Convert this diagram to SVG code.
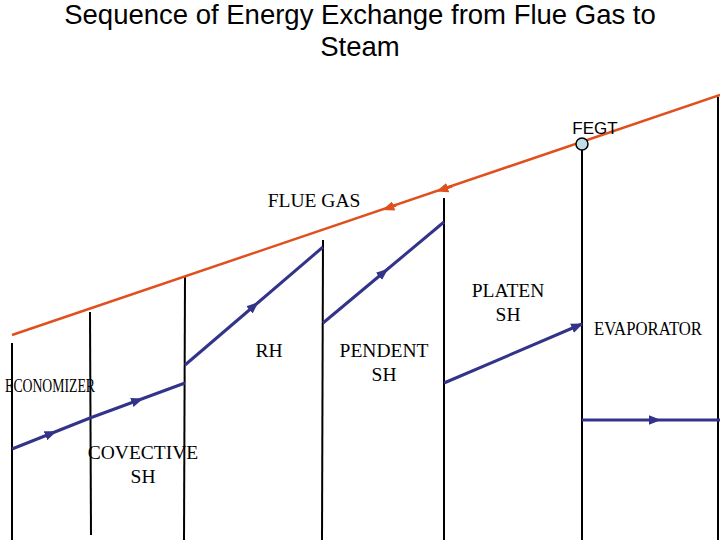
<svg xmlns="http://www.w3.org/2000/svg" width="720" height="540" viewBox="0 0 720 540">
<style>
.t{font-family:"Liberation Serif",serif;font-size:19.5px;fill:#000;text-anchor:middle}
.s{font-family:"Liberation Sans",sans-serif;fill:#000;text-anchor:middle}
.v{stroke:#000;stroke-width:2;fill:none}
.b{stroke:#33338a;stroke-width:3;fill:none}
.r{stroke:#e0501e;stroke-width:2.5;fill:none}
</style>
<defs>
<marker id="ab" viewBox="0 0 10 10" refX="5" refY="5" markerWidth="4" markerHeight="4" orient="auto" markerUnits="strokeWidth"><path d="M0,1L10,5L0,9z" fill="#33338a"/></marker>
<marker id="ae" viewBox="0 0 10 10" refX="9" refY="5" markerWidth="4" markerHeight="4" orient="auto" markerUnits="strokeWidth"><path d="M0,1L10,5L0,9z" fill="#33338a"/></marker>
<marker id="ar" viewBox="0 0 10 10" refX="5" refY="5" markerWidth="4" markerHeight="4" orient="auto" markerUnits="strokeWidth"><path d="M0,1L10,5L0,9z" fill="#e0501e"/></marker>
</defs>
<text class="s" font-size="27.5" x="360" y="24">Sequence of Energy Exchange from Flue Gas to</text>
<text class="s" font-size="27.5" x="360" y="56">Steam</text>
<g id="walls">
<line class="v" x1="12" y1="343" x2="12" y2="540" stroke-width="1.5"/>
<line class="v" x1="90" y1="312" x2="91" y2="535"/>
<line class="v" x1="185" y1="276" x2="184" y2="540"/>
<line class="v" x1="323" y1="240" x2="322" y2="540"/>
<line class="v" x1="444" y1="198" x2="444" y2="540"/>
<line class="v" x1="582" y1="150" x2="582" y2="540" stroke-width="1.5"/>
<line class="v" x1="718" y1="97" x2="718" y2="540" stroke-width="1.5"/>
</g>
<g id="connectors">
<path class="r" d="M12,335L720,95"/>
<path d="M452,186.2L442,189.6" stroke="#e0501e" stroke-width="3" marker-end="url(#ar)"/>
<path d="M396,205.2L388,208" stroke="#e0501e" stroke-width="3" marker-end="url(#ar)"/>
<path class="b" d="M12,449L51,433.5L90,418" marker-mid="url(#ab)"/>
<path class="b" d="M90,418L137.5,400.5L185,383" marker-mid="url(#ab)"/>
<path class="b" d="M185,365L254,306L323,247" marker-mid="url(#ab)"/>
<path class="b" d="M323,323L383.5,272.5L444,222" marker-mid="url(#ab)"/>
<path class="b" d="M444,383L582,324" marker-end="url(#ae)"/>
<path class="b" d="M582,420L655,420L720,420" marker-mid="url(#ab)"/>
</g>
<g id="fegt">
<circle cx="582" cy="144" r="6" fill="#bfe0e6" stroke="#000" stroke-width="1.5"/>
<text class="s" font-size="17" x="595" y="134">FEGT</text>
</g>
<g id="labels">
<text class="t" x="314" y="207">FLUE GAS</text>
<text class="t" x="508" y="297">PLATEN</text>
<text class="t" x="508" y="321">SH</text>
<text class="t" x="648" y="335" font-size="15" textLength="108" lengthAdjust="spacingAndGlyphs">EVAPORATOR</text>
<text class="t" x="269" y="357">RH</text>
<text class="t" x="384" y="357">PENDENT</text>
<text class="t" x="384" y="381">SH</text>
<text class="t" x="50" y="392" font-size="13" textLength="90" lengthAdjust="spacingAndGlyphs">ECONOMIZER</text>
<text class="t" x="143" y="459">COVECTIVE</text>
<text class="t" x="143" y="483">SH</text>
</g>
</svg>
